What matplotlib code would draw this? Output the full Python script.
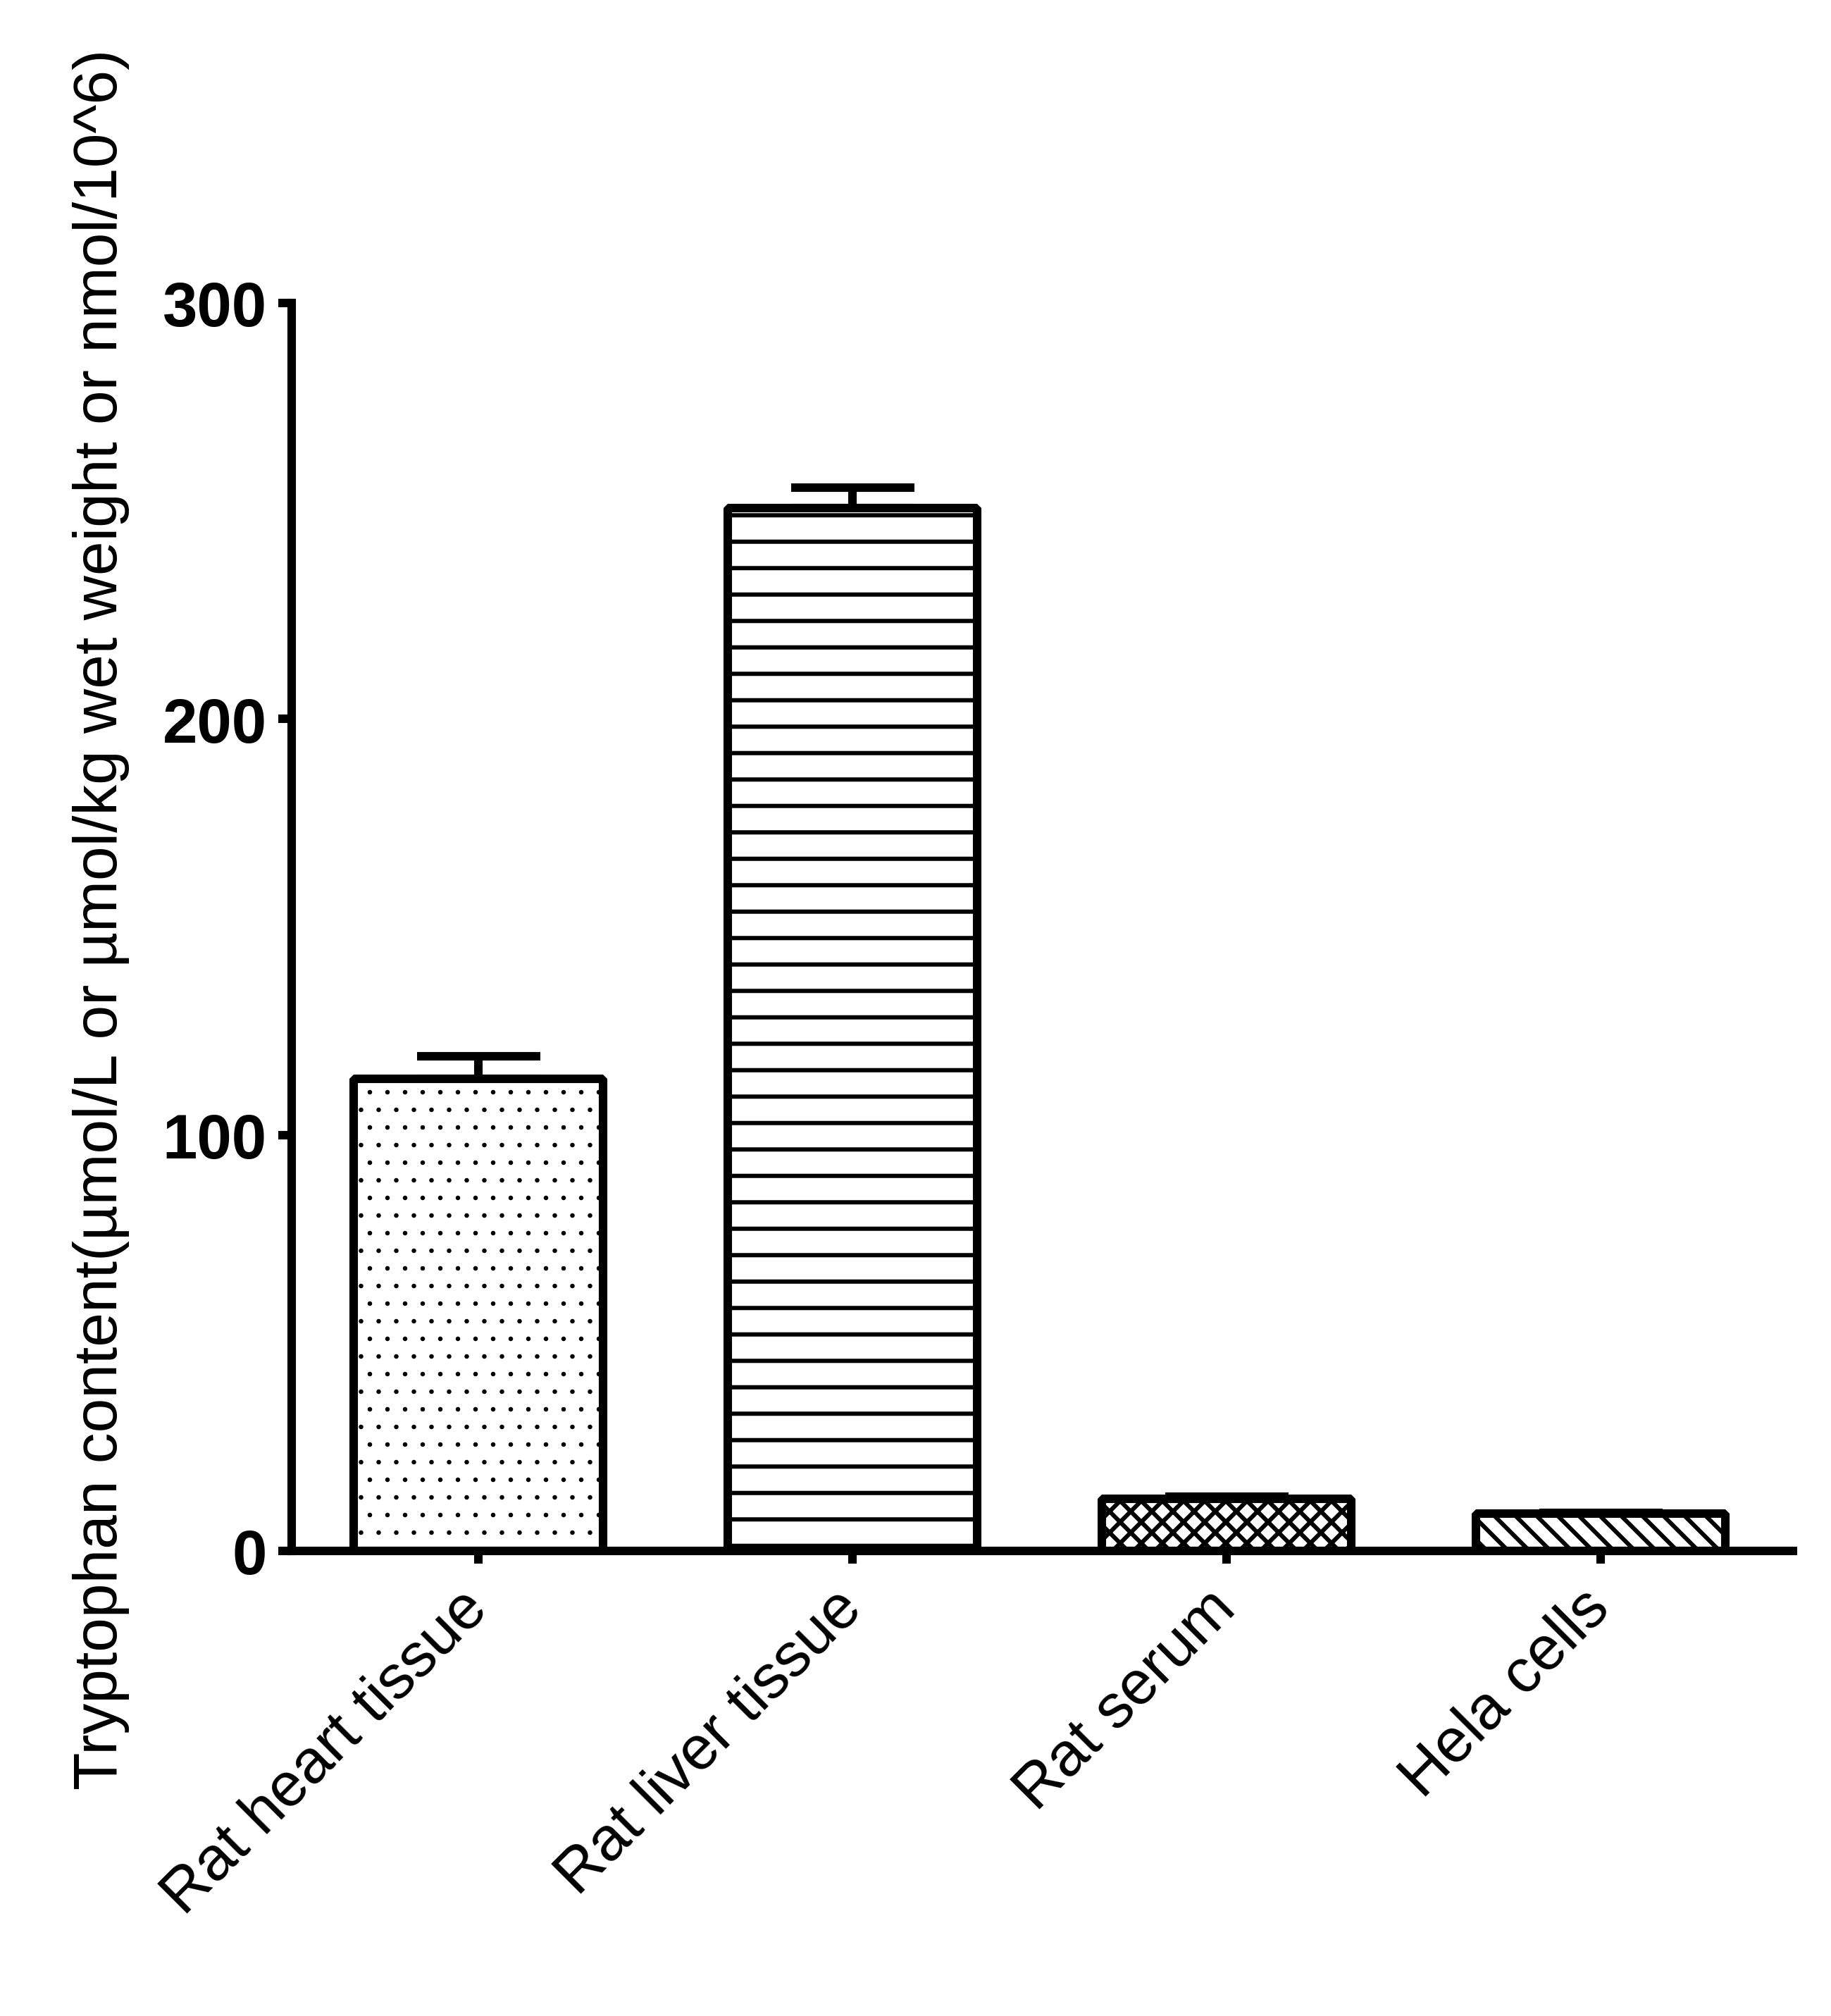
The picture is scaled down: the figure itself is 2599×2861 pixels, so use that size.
import matplotlib
matplotlib.use("Agg")
import matplotlib.pyplot as plt
import numpy as np
from matplotlib.backend_bases import GraphicsContextBase

# ---- data ----
categories = ["Rat heart tissue", "Rat liver tissue", "Rat serum", "Hela cells"]
values = [113.5, 250.7, 12.6, 8.9]
errors = [5.4, 4.9, 0.5, 0.3]
y_ticks = [0, 100, 200, 300]
y_label = "Tryptophan content(\u00b5mol/L or \u00b5mol/kg wet weight or nmol/10^6)"

# ---- hatch density per pattern (style only) ----
HATCH_DENSITY = {"..": 6.0, "-": 8.4, "x": 20.0, "\\": 20.0}
_orig_get_hatch_path = GraphicsContextBase.get_hatch_path


def _get_hatch_path(self, density=6.0):
    h = self.get_hatch()
    if h in HATCH_DENSITY:
        density = HATCH_DENSITY[h]
    return _orig_get_hatch_path(self, density)


GraphicsContextBase.get_hatch_path = _get_hatch_path

plt.rcParams["font.family"] = ["Liberation Sans", "DejaVu Sans"]
plt.rcParams["hatch.linewidth"] = 1.45
plt.rcParams["hatch.color"] = "black"

W, H, DPI = 2599, 2862, 300
fig = plt.figure(figsize=(W / DPI, H / DPI), dpi=DPI)
ax = fig.add_axes([414 / W, 1 - 2202 / H, (2545 - 414) / W, (2202 - 430.8) / H])

LW = 2.9
hatches = ["..", "-", "x", "\\"]
x = np.arange(len(categories))
bars = ax.bar(x, values, width=0.667, color="white", edgecolor="black",
              linewidth=LW, zorder=3)
for b, h in zip(bars, hatches):
    b.set_hatch(h)
    b.set_joinstyle("bevel")
if hasattr(bars[0], "set_hatch_linewidth"):
    bars[0].set_hatch_linewidth(0.35)

ax.errorbar(x, values, yerr=[np.zeros(len(errors)), errors], fmt="none",
            ecolor="black", elinewidth=LW, capsize=21, capthick=LW, zorder=2)

ax.set_xlim(-0.5, 3.514)
ax.set_ylim(0, 300)
ax.set_yticks(y_ticks)
ax.set_yticklabels([str(t) for t in y_ticks], fontsize=21.3, fontweight="bold")
ax.set_xticks(x)
ax.set_xticklabels(categories, fontsize=21, rotation=45, ha="right",
                   va="center", rotation_mode="anchor")

for s in ["top", "right"]:
    ax.spines[s].set_visible(False)
for s in ["left", "bottom"]:
    ax.spines[s].set_linewidth(LW)
    ax.spines[s].set_zorder(4)
ax.tick_params(axis="y", length=4.6, width=LW, pad=3.8)
ax.tick_params(axis="x", length=4.4, width=LW, pad=12)

fig.text(166 / W, 1 - 2540 / H, y_label, rotation=90, rotation_mode="anchor",
         ha="left", va="baseline", fontsize=21.0)

fig.savefig("out.png", dpi=DPI)
